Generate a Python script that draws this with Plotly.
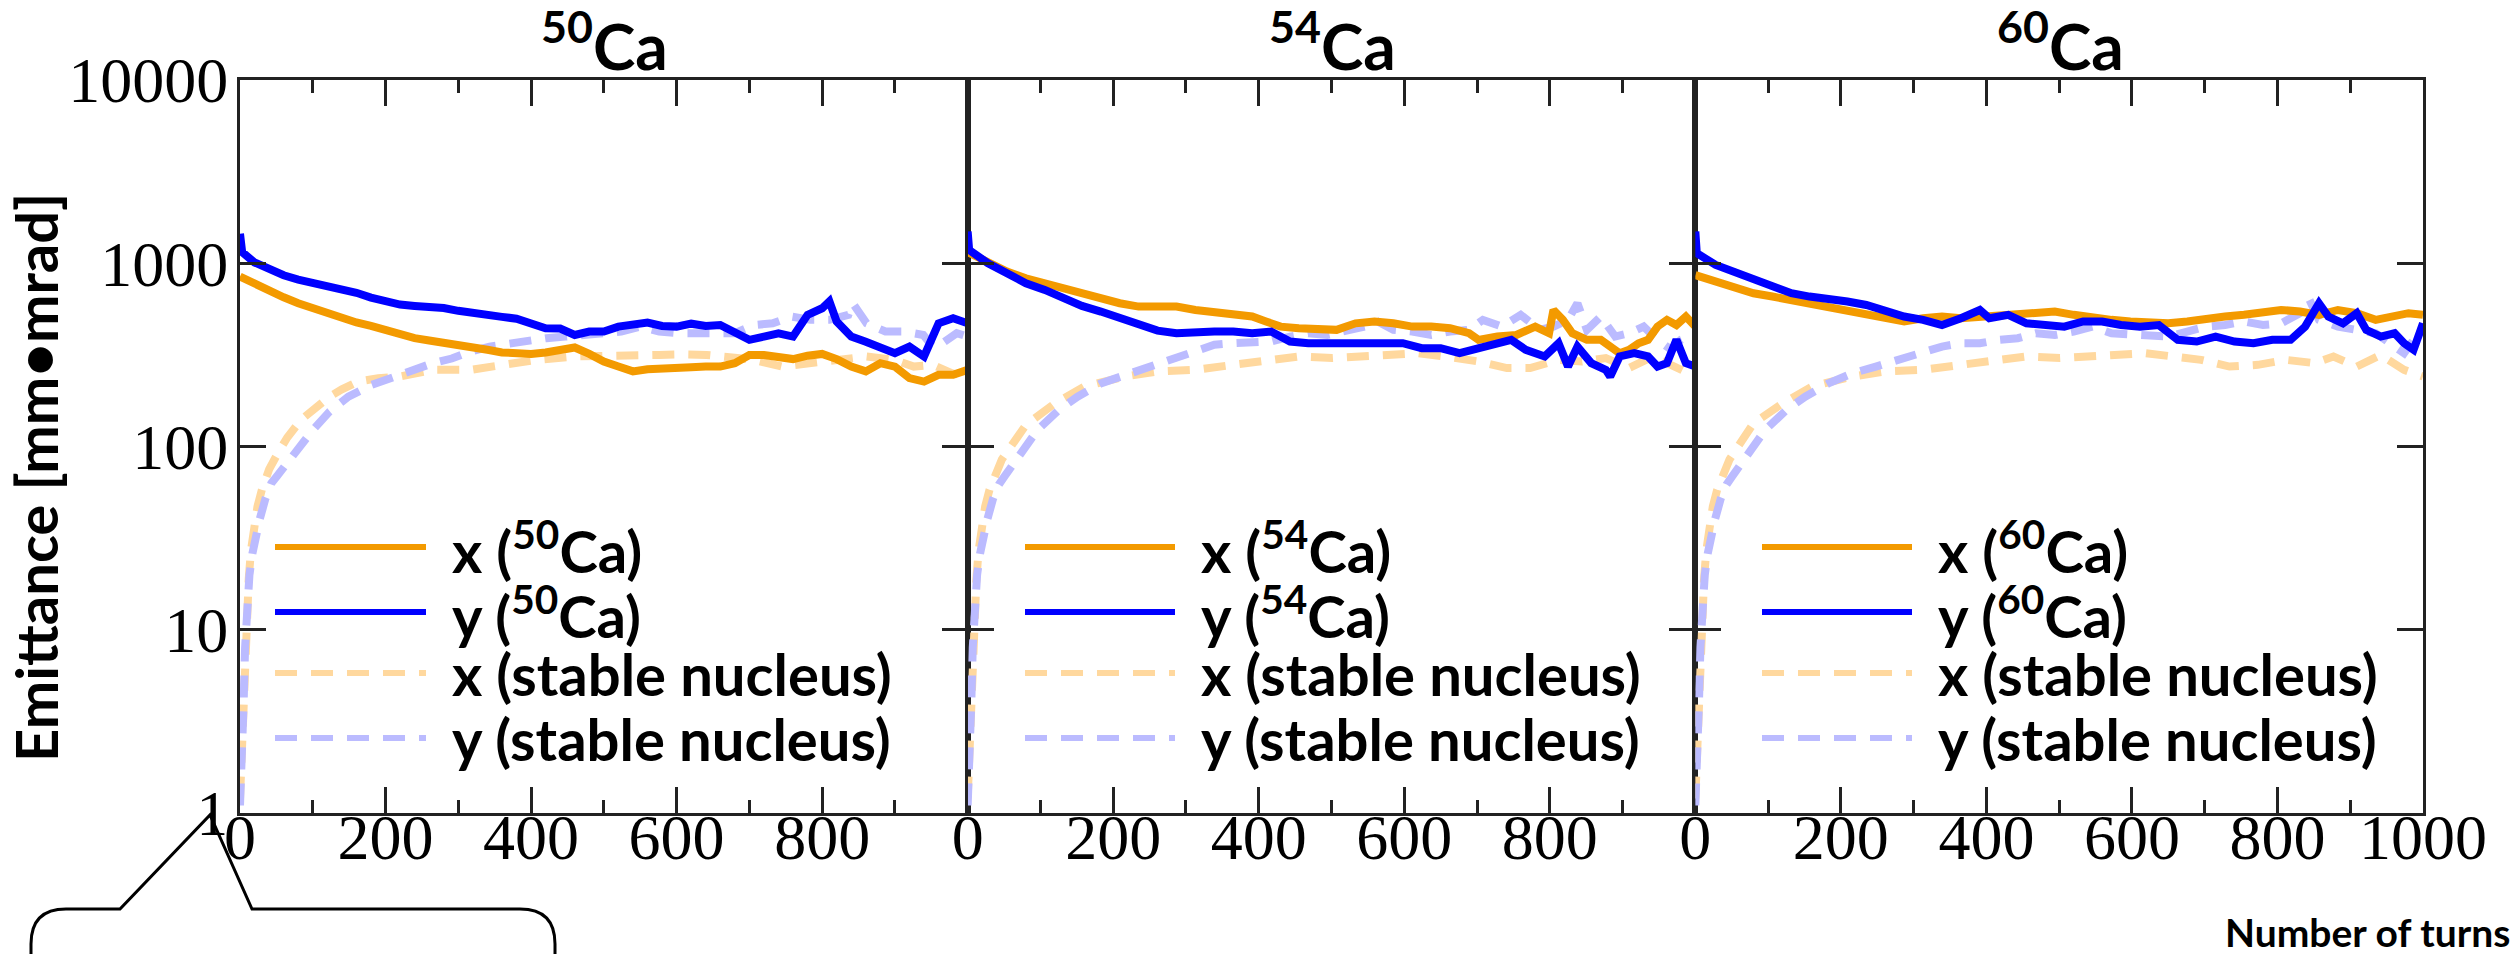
import plotly.graph_objects as go

# ---------------- data: emittance [mm*mrad] versus number of turns ----------------
# 50Ca panel
T_X50 = [0, 20, 40, 60, 80, 100, 120, 140, 160, 180, 200, 220, 240, 260, 280, 300, 320, 340, 360, 380,
         400, 420, 440, 460, 480, 500, 520, 540, 560, 580, 600, 620, 640, 660, 680, 700, 720, 740, 760,
         780, 800, 820, 840, 860, 880, 900, 920, 940, 960, 980, 1000]
E_X50 = [846, 771, 709, 652, 605, 568, 529, 499, 475, 455, 433, 407, 390, 379, 369, 363, 355, 337, 326, 323,
         320, 326, 334, 347, 320, 291, 273, 257, 264, 268, 273, 271, 273, 273, 285, 316, 316, 310, 300,
         313, 320, 300, 273, 257, 285, 273, 236, 226, 246, 246, 262]
T_Y50 = [0, 3, 20, 40, 60, 80, 100, 120, 140, 160, 180, 200, 220, 240, 260, 280, 300, 320, 340, 360, 380,
         400, 420, 440, 460, 480, 500, 520, 540, 560, 580, 600, 620, 640, 660, 680, 700, 720, 740, 760,
         780, 800, 810, 820, 840, 860, 880, 900, 920, 940, 960, 980, 1000]
E_Y50 = [1450, 1150, 1010, 920, 860, 815, 785, 750, 715, 690, 650, 620, 595, 585, 578, 570, 550, 540, 527, 510, 498,
         465, 442, 440, 406, 424, 424, 451, 460, 475, 455, 451, 468, 455, 460, 424, 382, 398, 415, 398,
         523, 568, 620, 480, 398, 373, 351, 323, 351, 310, 470, 501, 470]
T_XS50 = [0, 3, 5, 7, 9, 12, 15, 18, 24, 30, 40, 52, 65, 84, 100, 123, 140, 162, 190, 220, 265, 317, 362,
          408, 460, 505, 540, 576, 610, 641, 680, 706, 745, 780, 810, 861, 900, 926, 952, 978, 1000]
E_XS50 = [1.2, 2.5, 4.5, 7.5, 11, 19, 27, 35, 47, 58, 75, 92, 112, 140, 158, 187, 205, 226, 236, 241, 262, 262, 279,
          297, 310, 310, 313, 316, 318, 316, 305, 297, 273, 285, 297, 310, 297, 273, 279, 251, 241]
T_YS50 = [0, 3, 5, 7, 9, 13, 17, 22, 27, 35, 43, 51, 74, 100, 123, 149, 181, 213, 239, 265, 291, 317, 343,
          369, 395, 421, 447, 473, 498, 524, 550, 576, 602, 628, 654, 680, 706, 732, 758, 784, 810, 836,
          842, 861, 887, 913, 939, 952, 965, 985, 1000]
E_YS50 = [1.1, 2.0, 4.0, 8.0, 14, 20, 26, 33, 40, 52, 63, 69, 92, 123, 155, 187, 217, 241, 268, 285, 302, 330, 351,
          366, 374, 390, 398, 406, 415, 424, 451, 424, 415, 415, 424, 415, 460, 470, 512, 491, 491, 523,
          605, 470, 424, 424, 406, 351, 366, 415, 398]

# 54Ca panel
T_X54 = [0, 28, 54, 80, 106, 132, 157, 183, 209, 235, 261, 287, 313, 339, 365, 391, 410, 430, 455, 481,
         507, 533, 559, 585, 611, 637, 663, 689, 702, 728, 754, 780, 799, 805, 818, 831, 851, 870, 883,
         896, 909, 922, 935, 948, 961, 974, 987, 1000]
E_X54 = [1150, 1000, 900, 828, 778, 730, 686, 631, 605, 580, 580, 580, 556, 545, 523, 512, 481, 451, 442, 442,
         433, 470, 481, 470, 451, 451, 442, 415, 382, 398, 406, 451, 415, 556, 491, 415, 382, 382, 351,
         323, 337, 366, 382, 451, 491, 460, 512, 451]
T_Y54 = [0, 2, 28, 54, 80, 106, 132, 157, 183, 209, 235, 261, 287, 313, 339, 365, 391, 417, 443, 468, 494,
         520, 546, 572, 598, 624, 650, 676, 702, 728, 747, 767, 793, 812, 825, 838, 857, 877, 883, 896,
         916, 935, 948, 961, 974, 987, 1000]
E_Y54 = [1490, 1182, 1000, 870, 778, 715, 644, 585, 545, 501, 460, 429, 415, 424, 424, 424, 415, 424, 374, 366, 366,
         359, 359, 359, 366, 344, 344, 323, 344, 359, 382, 337, 310, 366, 273, 351, 285, 262, 241, 310,
         323, 310, 273, 285, 382, 285, 273]
T_XS54 = [0, 3, 5, 7, 9, 12, 15, 18, 24, 30, 47, 80, 119, 161, 216, 261, 313, 365, 410, 455, 501, 540, 579,
          618, 656, 702, 741, 773, 812, 844, 877, 909, 942, 974, 1000]
E_XS54 = [1.2, 2.5, 4.5, 7.5, 11, 19, 27, 35, 47, 58, 85, 131, 171, 213, 241, 257, 262, 279, 291, 310, 304, 310, 316,
          323, 310, 291, 268, 268, 297, 291, 304, 268, 310, 268, 241]
T_YS54 = [0, 3, 5, 7, 9, 13, 17, 22, 27, 35, 43, 51, 73, 96, 125, 151, 183, 216, 248, 281, 313, 339, 365,
          391, 417, 443, 468, 494, 520, 546, 559, 585, 611, 637, 663, 689, 708, 734, 760, 786, 805, 825,
          838, 851, 870, 890, 909, 929, 948, 967, 980, 1000]
E_YS54 = [1.1, 2.0, 4.0, 8.0, 14, 20, 26, 33, 40, 52, 62, 69, 92, 123, 158, 187, 221, 246, 268, 297, 330, 359, 366,
          366, 374, 398, 415, 406, 424, 451, 491, 433, 424, 406, 424, 433, 491, 451, 523, 433, 451, 491,
          605, 433, 512, 398, 415, 451, 382, 337, 382, 415]

# 60Ca panel
T_X60 = [0, 28, 54, 80, 106, 132, 157, 183, 209, 235, 261, 287, 313, 339, 365, 391, 417, 443, 468, 494,
         520, 546, 572, 598, 624, 650, 676, 702, 728, 754, 780, 805, 831, 857, 883, 909, 935, 961, 980, 1000]
E_X60 = [862, 794, 730, 686, 658, 631, 592, 568, 545, 523, 501, 481, 501, 512, 501, 512, 523, 523, 534, 545,
         523, 501, 491, 481, 470, 470, 481, 501, 512, 523, 545, 556, 545, 523, 556, 534, 491, 523, 534, 523]
T_Y60 = [0, 2, 28, 54, 80, 106, 132, 157, 183, 209, 235, 261, 287, 313, 339, 365, 391, 404, 430, 455, 481,
         507, 533, 559, 585, 611, 637, 663, 689, 715, 741, 767, 793, 818, 838, 857, 870, 890, 909, 922,
         942, 961, 974, 987, 1000]
E_Y60 = [1490, 1134, 979, 900, 811, 746, 686, 658, 644, 618, 592, 545, 512, 491, 460, 501, 556, 501, 523, 470, 460,
         451, 481, 481, 460, 451, 460, 382, 374, 398, 374, 366, 382, 382, 451, 605, 512, 470, 534, 433,
         398, 415, 366, 337, 470]
T_XS60 = [0, 3, 5, 7, 9, 12, 15, 18, 24, 30, 47, 80, 119, 161, 216, 261, 313, 365, 410, 455, 501, 540, 579,
          618, 656, 695, 734, 773, 812, 851, 877, 909, 942, 974, 1000]
E_XS60 = [1.2, 2.5, 4.5, 7.5, 11, 19, 27, 35, 47, 58, 85, 134, 171, 213, 241, 257, 262, 279, 291, 310, 304, 310, 323,
          323, 310, 297, 273, 279, 297, 285, 310, 273, 316, 262, 241]
T_YS60 = [0, 3, 5, 7, 9, 13, 17, 22, 27, 35, 43, 51, 73, 96, 125, 151, 183, 216, 248, 287, 313, 339, 365,
          391, 417, 443, 468, 494, 520, 546, 572, 598, 624, 650, 676, 702, 728, 754, 780, 805, 831, 844,
          857, 883, 909, 935, 961, 974, 987, 1000]
E_YS60 = [1.1, 2.0, 4.0, 8.0, 14, 20, 26, 33, 40, 52, 62, 69, 92, 123, 158, 187, 221, 251, 273, 302, 330, 351, 366,
          366, 382, 390, 415, 406, 424, 451, 415, 406, 398, 398, 424, 451, 460, 481, 460, 470, 534, 631,
          491, 451, 433, 415, 351, 323, 382, 451]

ISOTOPES = ["50", "54", "60"]
Y_TICKS = [1, 10, 100, 1000, 10000]
Y_TICK_TEXT = ["1", "10", "100", "1000", "10000"]

# ---------------- styling ----------------
ORANGE = "#F39A00"
BLUE = "#0000FF"
LIGHT_ORANGE = "#FFD89E"
LIGHT_BLUE = "#BBBBFF"
DASH = "22px,14px"
SANS = "Lato, Liberation Sans"
SERIF = "Liberation Serif"
AXIS_COLOR = "#222222"

W, H = 2520, 954
ML, MR, MT, MB = 240, 97, 80, 141
PW, PH = W - ML - MR, H - MT - MB


def px(x):
    return (x - ML) / PW


def py(y):
    return 1 - (y - MT) / PH


panels = [
    dict(iso=ISOTOPES[0], series=[(T_XS50, E_XS50), (T_YS50, E_YS50), (T_X50, E_X50), (T_Y50, E_Y50)]),
    dict(iso=ISOTOPES[1], series=[(T_XS54, E_XS54), (T_YS54, E_YS54), (T_X54, E_X54), (T_Y54, E_Y54)]),
    dict(iso=ISOTOPES[2], series=[(T_XS60, E_XS60), (T_YS60, E_YS60), (T_X60, E_X60), (T_Y60, E_Y60)]),
]
styles = [
    dict(color=LIGHT_ORANGE, dash=DASH),
    dict(color=LIGHT_BLUE, dash=DASH),
    dict(color=ORANGE, dash="solid"),
    dict(color=BLUE, dash="solid"),
]

fig = go.Figure()
for i, p in enumerate(panels):
    sfx = "" if i == 0 else str(i + 1)
    for (t, e), st in zip(p["series"], styles):
        fig.add_trace(go.Scatter(
            x=t, y=e, mode="lines", xaxis="x" + sfx, yaxis="y" + sfx,
            line=dict(color=st["color"], width=8, dash=st["dash"]),
            showlegend=False, hoverinfo="skip",
        ))

layout = dict(
    template="none",
    width=W, height=H,
    margin=dict(l=ML, r=MR, t=MT, b=MB, pad=0),
    paper_bgcolor="white", plot_bgcolor="white",
    font=dict(family=SANS, color="black"),
    showlegend=False,
)
for i in range(3):
    sfx = "" if i == 0 else str(i + 1)
    last = i == 2
    xt = [0, 200, 400, 600, 800, 1000] if last else [0, 200, 400, 600, 800]
    layout["xaxis" + sfx] = dict(
        domain=[i / 3, (i + 1) / 3], anchor="y" + sfx, range=[0, 1000],
        tickmode="array", tickvals=xt, ticktext=[str(v) for v in xt],
        ticks="inside", ticklen=26, tickwidth=3, tickcolor=AXIS_COLOR,
        minor=dict(tickmode="array", tickvals=[100, 300, 500, 700, 900], ticks="inside",
                   ticklen=13, tickwidth=3, tickcolor=AXIS_COLOR, showgrid=False),
        showline=True, linecolor=AXIS_COLOR, linewidth=3, mirror="allticks",
        showgrid=False, zeroline=False, automargin=False,
        tickfont=dict(family=SERIF, size=64, color="black"), ticklabelstandoff=-34,
    )
    layout["yaxis" + sfx] = dict(
        domain=[0, 1], anchor="x" + sfx, type="log", range=[0, 4],
        tickmode="array", tickvals=Y_TICKS, ticktext=Y_TICK_TEXT,
        showticklabels=(i == 0),
        ticks="inside", ticklen=26, tickwidth=3, tickcolor=AXIS_COLOR,
        showline=True, linecolor=AXIS_COLOR, linewidth=3, mirror="allticks",
        showgrid=False, zeroline=False, automargin=False,
        tickfont=dict(family=SERIF, size=64, color="black"), ticklabelstandoff=-4,
    )
fig.update_layout(**layout)

panel_left = [240, 968, 1696]
legend_x = [(35, 186, 210), (57, 207, 231), (66, 216, 240)]
legend_rows = [547, 612, 673, 738]
annotations = []
shapes = []
for i, p in enumerate(panels):
    left = panel_left[i]
    center = left + 364
    annotations.append(dict(
        x=px(center), y=py(42), xref="paper", yref="paper", xanchor="center", yanchor="middle",
        text="<sup>%s</sup>Ca" % p["iso"], showarrow=False,
        font=dict(family=SANS, size=64, color="black", weight="bold"),
    ))
    labels = ["x (<sup>%s</sup>Ca)" % p["iso"], "y (<sup>%s</sup>Ca)" % p["iso"],
              "x (stable nucleus)", "y (stable nucleus)"]
    order = [2, 3, 0, 1]
    x0, x1, xtxt = legend_x[i]
    for row, (lab, k) in enumerate(zip(labels, order)):
        st = styles[k]
        yr = legend_rows[row]
        shapes.append(dict(
            type="line", xref="paper", yref="paper",
            x0=px(left + x0), x1=px(left + x1), y0=py(yr), y1=py(yr),
            line=dict(color=st["color"], width=6, dash=st["dash"]),
        ))
        annotations.append(dict(
            x=px(left + xtxt), y=py(yr), xref="paper", yref="paper",
            xanchor="left", yanchor="middle", text=lab, showarrow=False,
            font=dict(family=SANS, size=58, color="black", weight="bold"),
        ))

annotations.append(dict(
    x=px(35), y=py(478), xref="paper", yref="paper", xanchor="center", yanchor="middle",
    text="Emittance [mm\u2022mrad]", textangle=-90, showarrow=False,
    font=dict(family=SANS, size=58, color="black", weight="bold"),
))
annotations.append(dict(
    x=px(2512), y=py(932), xref="paper", yref="paper", xanchor="right", yanchor="middle",
    text="Number of turns", showarrow=False,
    font=dict(family=SANS, size=39, color="black", weight="bold"),
))

# speech-bubble outline pointing at the lowest y tick label
r = 35
bl, br, btop, bbot = 31, 555, 909, 990
tip = (210, 815)
pts = [
    ("M", bl, bbot), ("L", bl, btop + r), ("Q", bl, btop, bl + r, btop), ("L", 120, btop),
    ("L", tip[0], tip[1]), ("L", 252, btop), ("L", br - r, btop), ("Q", br, btop, br, btop + r),
    ("L", br, bbot),
]
path = ""
for seg in pts:
    cmd, coords = seg[0], seg[1:]
    vals = []
    for j in range(0, len(coords), 2):
        vals.append("%.5f,%.5f" % (px(coords[j]), py(coords[j + 1])))
    path += cmd + " " + " ".join(vals) + " "
shapes.append(dict(type="path", xref="paper", yref="paper", path=path.strip(),
                   line=dict(color="black", width=3)))

fig.update_layout(annotations=annotations, shapes=shapes)
fig.write_html("out.html")
